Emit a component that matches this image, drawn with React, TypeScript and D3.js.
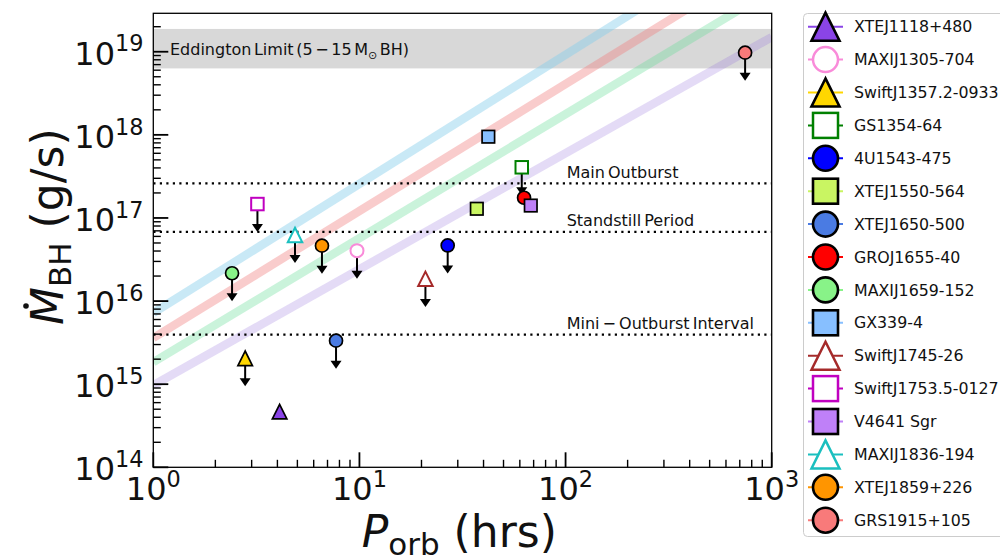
import React from "react";
import * as d3 from "d3";

// ---------- data ----------
const sources = [
  "XTEJ1118+480", "MAXIJ1305-704", "SwiftJ1357.2-0933", "GS1354-64", "4U1543-475",
  "XTEJ1550-564", "XTEJ1650-500", "GROJ1655-40", "MAXIJ1659-152", "GX339-4",
  "SwiftJ1745-26", "SwiftJ1753.5-0127", "V4641 Sgr", "MAXIJ1836-194", "XTEJ1859+226", "GRS1915+105",
];
const porbHrs = [4.1, 9.73, 2.79, 61.3, 26.8, 37.1, 7.7, 62.9, 2.41, 42.2, 20.9, 3.2, 67.8, 4.87, 6.58, 743];
const mdotBH = [4.67e14, 4.04e16, 2.05e15, 4.07e17, 4.67e16, 1.29e17, 3.34e15, 1.75e17, 2.16e16, 9.5e17, 1.85e16, 1.47e17, 1.41e17, 6.24e16, 4.64e16, 9.75e18];
const upperLimit = [false, true, true, true, true, false, true, false, true, false, true, true, false, true, true, true];
const markerShape = ["^", "o", "^", "s", "o", "s", "o", "o", "o", "s", "^", "s", "s", "^", "o", "o"];
const markerColor = ["#8A44E6", "#F98BD9", "#FFD700", "#008000", "#0000FF", "#C9F562", "#4A7BE3", "#FF0000", "#88F388", "#87BFFF", "#A52A2A", "#C000C0", "#BF80F8", "#1ABFBF", "#FF9500", "#F87A7A"];
const openMarker = [false, true, false, true, false, false, false, false, false, false, true, true, false, true, false, false];
const ulimFactor = 0.5;

// critical accretion-rate tracks (value at P=1 hr and at P=1000 hr)
const trackStart = [7.2e15, 3.6e15, 1.84e15, 9.7e14];
const trackEnd = [3.28e20, 1.38e20, 5.5e19, 1.5e19];
const trackColor = ["#87CEEB", "#F08080", "#66DD99", "#9370DB"];
const trackOpacity = [0.45, 0.4, 0.35, 0.25];

const eddLow = 6.3e18;
const eddHigh = 1.88e19;
const regimeLevels = [2.6e17, 6.8e16, 3.95e15];
const regimeLabels = ["Main Outburst", "Standstill Period", "Mini \u2212 Outburst Interval"];

const xDomain = [1, 1000];
const yDomain = [1e14, 2.9e19];
const xTickExps = [0, 1, 2, 3];
const yTickExps = [14, 15, 16, 17, 18, 19];

// ---------- layout ----------
const W = 1000, H = 559;
const L = 153.3, R = 771.7, T = 13.3, B = 467.3;
const FONT = "DejaVu Sans";

const x = d3.scaleLog().domain(xDomain).range([L, R]);
const y = d3.scaleLog().domain(yDomain).range([B, T]);

function Marker({ shape, cx, cy, size, fill, stroke, sw }: any) {
  if (shape === "o") return <circle cx={cx} cy={cy} r={size / 2} fill={fill} stroke={stroke} strokeWidth={sw} />;
  if (shape === "s") return <rect x={cx - size / 2} y={cy - size / 2} width={size} height={size} fill={fill} stroke={stroke} strokeWidth={sw} />;
  const h = size / 2;
  return <path d={`M${cx},${cy - h}L${cx - h},${cy + h}L${cx + h},${cy + h}Z`} fill={fill} stroke={stroke} strokeWidth={sw} strokeLinejoin="miter" />;
}

function minorTicks(lo: number, hi: number, max: number) {
  const out: number[] = [];
  for (let e = lo; e <= hi; e++) for (let k = 2; k <= 9; k++) { const v = k * Math.pow(10, e); if (v < max) out.push(v); }
  return out;
}

export default function App() {
  const xMinor = minorTicks(0, 2, 1000);
  const yMinor = minorTicks(14, 19, yDomain[1]);
  const line = d3.line<[number, number]>().x(d => x(d[0])).y(d => y(d[1]));
  const legendRowY = (i: number) => 26.7 + 32.9 * i;

  return (
    <svg width={W} height={H} style={{ position: "absolute", left: 0, top: 0, display: "block", background: "#fff" }} fontFamily={FONT}>
      <defs>
        <clipPath id="plotclip"><rect x={L} y={T} width={R - L} height={B - T} /></clipPath>
      </defs>
      <g clipPath="url(#plotclip)">
        <rect x={L} y={y(eddHigh)} width={R - L} height={y(eddLow) - y(eddHigh)} fill="#d8d8d8" />
        {trackStart.map((s, i) => (
          <path key={i} d={line([[xDomain[0], s], [xDomain[1], trackEnd[i]]]) as string} stroke={trackColor[i]} strokeOpacity={trackOpacity[i]} strokeWidth={8.5} fill="none" />
        ))}
        {regimeLevels.map((v, i) => (
          <line key={i} x1={L} x2={R} y1={y(v)} y2={y(v)} stroke="#000" strokeWidth={2.2} strokeDasharray="2.2 4.3" />
        ))}
      </g>
      <text x={170} y={55} fontSize={16} wordSpacing={-2.5} fill="#111">
        Eddington Limit (5 {"\u2212"} 15 M<tspan fontSize={11} dy={4}>{"\u2299"}</tspan><tspan dy={-4}> BH)</tspan>
      </text>
      {regimeLabels.map((lab, i) => (
        <text key={i} x={566.7} y={y(regimeLevels[i]) - 5.5} fontSize={16} wordSpacing={-2} fill="#111">{lab}</text>
      ))}

      {/* data points */}
      {sources.map((name, i) => {
        const cx = x(porbHrs[i]);
        const cy = y(mdotBH[i]);
        const size = markerShape[i] === "s" ? 12.5 : markerShape[i] === "^" ? 14.5 : 13;
        const end = y(mdotBH[i] * ulimFactor);
        return (
          <g key={name}>
            {upperLimit[i] && (
              <g>
                <line x1={cx} x2={cx} y1={cy} y2={end - 1} stroke="#000" strokeWidth={2} />
                <path d={`M${cx - 5.5},${end - 5}L${cx + 5.5},${end - 5}L${cx},${end + 3}Z`} fill="#000" />
              </g>
            )}
            <Marker shape={markerShape[i]} cx={cx} cy={cy} size={size}
              fill={openMarker[i] ? "#fff" : markerColor[i]}
              stroke={openMarker[i] ? markerColor[i] : "#000"} sw={openMarker[i] ? 2 : 1.7} />
          </g>
        );
      })}

      {/* spines */}
      <rect x={L} y={T} width={R - L} height={B - T} fill="none" stroke="#000" strokeWidth={1.3} />

      {/* ticks */}
      {xTickExps.map(e => (
        <line key={"xm" + e} x1={x(Math.pow(10, e))} x2={x(Math.pow(10, e))} y1={B} y2={B - 15} stroke="#000" strokeWidth={1.8} />
      ))}
      {xMinor.map((v, i) => (
        <line key={"xn" + i} x1={x(v)} x2={x(v)} y1={B} y2={B - 7.5} stroke="#000" strokeWidth={1.4} />
      ))}
      {yTickExps.map(e => (
        <line key={"ym" + e} x1={L} x2={L + 15} y1={y(Math.pow(10, e))} y2={y(Math.pow(10, e))} stroke="#000" strokeWidth={1.8} />
      ))}
      {yMinor.map((v, i) => (
        <line key={"yn" + i} x1={L} x2={L + 7.5} y1={y(v)} y2={y(v)} stroke="#000" strokeWidth={1.4} />
      ))}

      {/* x tick labels */}
      {xTickExps.map(e => (
        <text key={"xl" + e} x={x(Math.pow(10, e))} y={500} fontSize={32} textAnchor="middle" fill="#111">
          10<tspan fontSize={22.4} dy={-13.3}>{e}</tspan>
        </text>
      ))}
      {/* y tick labels */}
      {yTickExps.map(e => (
        <text key={"yl" + e} x={143.5} y={y(Math.pow(10, e)) + 13} fontSize={32} textAnchor="end" fill="#111">
          10<tspan fontSize={22.4} dy={-13.3}>{e}</tspan>
        </text>
      ))}

      {/* axis labels */}
      <text x={361.7} y={547} fontSize={44} fill="#111">
        <tspan fontStyle="italic">P</tspan><tspan fontSize={31} dy={8}>orb</tspan><tspan dy={-8}> (hrs)</tspan>
      </text>
      <g transform="translate(63,325) rotate(-90)">
        <text x={0} y={0} fontSize={44} fill="#111">
          <tspan fontStyle="italic">M</tspan><tspan fontSize={31} dy={8}>BH</tspan><tspan dy={-8}> (g/s)</tspan>
        </text>
        <circle cx={19} cy={-37} r={2.8} fill="#111" />
      </g>

      {/* legend */}
      <rect x={803.5} y={13.5} width={210} height={523} rx={4} fill="#fff" stroke="#cccccc" strokeWidth={1} />
      {sources.map((name, i) => {
        const cy = legendRowY(i);
        const size = markerShape[i] === "s" ? 25 : markerShape[i] === "^" ? 28 : 25;
        return (
          <g key={"lg" + name}>
            <line x1={808} x2={843} y1={cy} y2={cy} stroke={markerColor[i]} strokeWidth={2} />
            <Marker shape={markerShape[i]} cx={825.5} cy={cy} size={size}
              fill={openMarker[i] ? "#fff" : markerColor[i]}
              stroke={openMarker[i] ? markerColor[i] : "#000"} sw={openMarker[i] ? 2.5 : 2.6} />
            <text x={854} y={cy + 5.6} fontSize={15.8} fill="#111">{name}</text>
          </g>
        );
      })}
    </svg>
  );
}
